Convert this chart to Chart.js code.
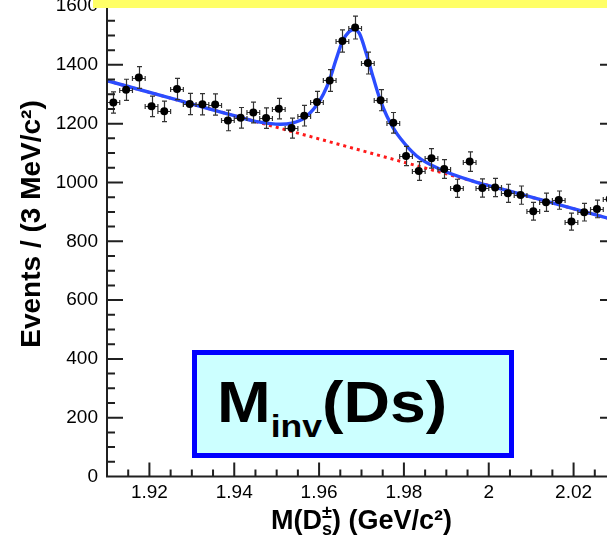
<!DOCTYPE html>
<html>
<head>
<meta charset="utf-8">
<title>Minv(Ds)</title>
<script src="https://cdn.jsdelivr.net/npm/chart.js@4.4.0/dist/chart.umd.min.js"></script>
<style>
    html, body { margin: 0; padding: 0; background: #fff; }
    body { width: 607px; height: 539px; overflow: hidden; position: relative; }
    #wrap { position: absolute; left: 0; top: 0; width: 630px; height: 539px; }
    #band { position: absolute; left: 93px; top: 0; width: 514px; height: 8px; background: #ffff66; }
    #tag { position: absolute; left: 192px; top: 350px; width: 322px; height: 108px; box-sizing: border-box;
           border: 5px solid #0000ff; background: #ccffff; }
    #tagText { position: absolute; left: 217px; top: 373px; font-family: "Liberation Sans", Arial, sans-serif;
               font-weight: bold; font-size: 58px; line-height: 1; white-space: nowrap; color: #000;
               transform: scaleX(1.11); transform-origin: 0 0; }
    #tagText .sub { font-size: 32px; vertical-align: -15px; }
</style>
</head>
<body>
<div id="wrap"><canvas id="massChart" width="630" height="539"></canvas></div>
<div id="band"></div>
<div id="tag"></div>
<div id="tagText">M<span class="sub">inv</span>(Ds)</div>
<script>
// bin centres (GeV/c^2) and event counts
const binCenters = [1.9115, 1.9145, 1.9175, 1.9205, 1.9235, 1.9265, 1.9295, 1.9325, 1.9355, 1.9385,
                    1.9415, 1.9445, 1.9475, 1.9505, 1.9535, 1.9565, 1.9595, 1.9625, 1.9655, 1.9685,
                    1.9715, 1.9745, 1.9775, 1.9805, 1.9835, 1.9865, 1.9895, 1.9925, 1.9955, 1.9985,
                    2.0015, 2.0045, 2.0075, 2.0105, 2.0135, 2.0165, 2.0195, 2.0225, 2.0255, 2.0285];
const counts = [1272, 1315, 1357, 1259, 1242, 1318, 1267, 1266, 1265, 1211,
                1220, 1238, 1219, 1251, 1185, 1227, 1274, 1347, 1481, 1527,
                1406, 1280, 1203, 1090, 1039, 1082, 1046, 980, 1071, 981,
                983, 963, 957, 902, 933, 940, 867, 899, 910, 944];
const countErrors = [36, 36, 37, 35, 35, 36, 36, 36, 36, 35,
                     35, 35, 35, 35, 34, 35, 36, 37, 38, 39,
                     37, 36, 35, 33, 32, 33, 32, 31, 33, 31,
                     31, 31, 31, 30, 31, 31, 29, 30, 30, 31];
const binHalfWidth = 0.0015;

// fit curve (signal + background), blue
const fitX = [1.9100, 1.9250, 1.9400, 1.9461, 1.9508, 1.9536, 1.9565, 1.9595, 1.9610, 1.9625,
              1.9640, 1.9655, 1.9670, 1.9683, 1.9695, 1.9712, 1.9728, 1.9744, 1.9760, 1.9775,
              1.9791, 1.9830, 1.9885, 1.9964, 2.0043, 2.0300];
const fitY = [1346, 1287, 1227, 1205, 1198, 1202, 1219, 1264, 1300, 1350,
              1418, 1480, 1512, 1520, 1507, 1435, 1355, 1281, 1225, 1185,
              1151, 1090, 1045, 1004, 973, 871];

// background only, red dotted
const bkgX = [1.9100, 2.0300];
const bkgY = [1346, 871];

const xTicks = [1.92, 1.94, 1.96, 1.98, 2.00, 2.02];
const yTicks = [0, 200, 400, 600, 800, 1000, 1200, 1400, 1600];
const xRange = [1.91, 2.03];
const yRange = [0, 1607];
const xMinorStep = 0.005;
const yMinorStep = 50;

const FONT = '"Liberation Sans", Arial, Helvetica, sans-serif';

// error bars go between the fit line and the markers
const errorBars = {
    id: 'errorBars',
    afterDatasetDraw(chart, args) {
        if (args.index !== 1) return;
        const { ctx, scales: { x, y } } = chart;
        ctx.save();
        ctx.strokeStyle = '#333';
        ctx.lineWidth = 1.2;
        ctx.beginPath();
        binCenters.forEach((c, i) => {
            const px = Math.round(x.getPixelForValue(c)) + 0.5;
            const py = Math.round(y.getPixelForValue(counts[i])) + 0.5;
            const top = y.getPixelForValue(counts[i] + countErrors[i]);
            const bot = y.getPixelForValue(counts[i] - countErrors[i]);
            const l = x.getPixelForValue(c - binHalfWidth);
            const r = x.getPixelForValue(c + binHalfWidth);
            ctx.moveTo(px, top); ctx.lineTo(px, bot);
            ctx.moveTo(px - 2.5, top); ctx.lineTo(px + 2.5, top);
            ctx.moveTo(px - 2.5, bot); ctx.lineTo(px + 2.5, bot);
            ctx.moveTo(l, py); ctx.lineTo(r, py);
            ctx.moveTo(l, py - 2.5); ctx.lineTo(l, py + 2.5);
            ctx.moveTo(r, py - 2.5); ctx.lineTo(r, py + 2.5);
        });
        ctx.stroke();
        ctx.restore();
    }
};

// ROOT style frame: ticks inside the frame, plus axis titles
const frame = {
    id: 'frame',
    afterDraw(chart) {
        const { ctx, chartArea: a, scales: { x, y } } = chart;
        ctx.save();
        ctx.strokeStyle = '#202020';
        ctx.lineWidth = 2;
        ctx.beginPath();
        ctx.moveTo(a.left, a.top); ctx.lineTo(a.left, a.bottom);
        ctx.lineTo(a.right, a.bottom); ctx.lineTo(a.right, a.top);
        const nx = Math.round((xRange[1] - xRange[0]) / xMinorStep);
        for (let k = 0; k <= nx; k++) {
            const v = xRange[0] + k * xMinorStep;
            const major = xTicks.some(t => Math.abs(t - v) < 1e-6);
            const px = x.getPixelForValue(v);
            ctx.moveTo(px, a.bottom); ctx.lineTo(px, a.bottom - (major ? 14 : 7));
        }
        for (let v = yRange[0]; v <= yRange[1]; v += yMinorStep) {
            const major = yTicks.includes(v);
            const py = y.getPixelForValue(v);
            const len = major ? 16 : 8;
            ctx.moveTo(a.left, py); ctx.lineTo(a.left + len, py);
            ctx.moveTo(a.right, py); ctx.lineTo(a.right - len, py);
        }
        ctx.stroke();

        // x title: M(D±s) (GeV/c²)
        ctx.fillStyle = '#000';
        ctx.textBaseline = 'alphabetic';
        ctx.textAlign = 'left';
        const big = `bold 27px ${FONT}`, small = `bold 18px ${FONT}`;
        const p1 = 'M(D', p3 = ') (GeV/c²)';
        ctx.font = big;
        const w1 = ctx.measureText(p1).width, w3 = ctx.measureText(p3).width;
        ctx.font = small;
        const ws = Math.max(ctx.measureText('±').width, ctx.measureText('s').width);
        const base = 529;
        let sx = (a.left + a.right) / 2 - (w1 + ws + w3) / 2;
        ctx.font = big;
        ctx.fillText(p1, sx, base);
        ctx.font = small;
        ctx.fillText('±', sx + w1, base - 11);
        ctx.fillText('s', sx + w1, base + 6);
        ctx.font = big;
        ctx.fillText(p3, sx + w1 + ws, base);

        // y title
        ctx.font = `bold 28px ${FONT}`;
        ctx.translate(40, 224);
        ctx.rotate(-Math.PI / 2);
        ctx.textAlign = 'center';
        ctx.fillText('Events / (3 MeV/c²)', 0, 0);
        ctx.restore();
    }
};

const ctx = document.getElementById('massChart').getContext('2d');
new Chart(ctx, {
    type: 'scatter',
    data: {
        datasets: [
            {
                label: 'data',
                data: binCenters.map((c, i) => ({ x: c, y: counts[i] })),
                pointRadius: 4,
                pointBackgroundColor: '#000',
                pointBorderWidth: 0
            },
            {
                label: 'fit',
                data: fitX.map((v, i) => ({ x: v, y: fitY[i] })),
                showLine: true,
                borderColor: '#2b4cff',
                borderWidth: 3.4,
                pointRadius: 0,
                cubicInterpolationMode: 'monotone'
            },
            {
                label: 'background',
                data: bkgX.map((v, i) => ({ x: v, y: bkgY[i] })),
                showLine: true,
                borderColor: '#ff1a1a',
                borderWidth: 3,
                borderDash: [3, 4],
                pointRadius: 0
            }
        ]
    },
    options: {
        responsive: false,
        animation: false,
        devicePixelRatio: 1,
        layout: { padding: { left: 0, top: 0, right: 14, bottom: 0 } },
        plugins: { legend: { display: false }, tooltip: { enabled: false } },
        scales: {
            x: {
                type: 'linear',
                min: xRange[0],
                max: xRange[1],
                afterBuildTicks: s => { s.ticks = xTicks.map(v => ({ value: v })); },
                afterFit: s => { s.height = 62.5; s.paddingLeft = 0; s.paddingRight = 0; },
                ticks: {
                    color: '#000',
                    font: { family: FONT, size: 19 },
                    padding: 5,
                    maxRotation: 0,
                    autoSkip: false,
                    callback: v => String(+Number(v).toFixed(2))
                },
                grid: { display: false, drawTicks: false },
                border: { display: false }
            },
            y: {
                min: yRange[0],
                max: yRange[1],
                afterBuildTicks: s => { s.ticks = yTicks.map(v => ({ value: v })); },
                afterFit: s => { s.width = 107; s.paddingTop = 0; s.paddingBottom = 0; },
                ticks: {
                    color: '#000',
                    font: { family: FONT, size: 19 },
                    padding: 9,
                    autoSkip: false,
                    callback: v => String(v)
                },
                grid: { display: false, drawTicks: false },
                border: { display: false }
            }
        }
    },
    plugins: [errorBars, frame]
});
</script>
</body>
</html>
